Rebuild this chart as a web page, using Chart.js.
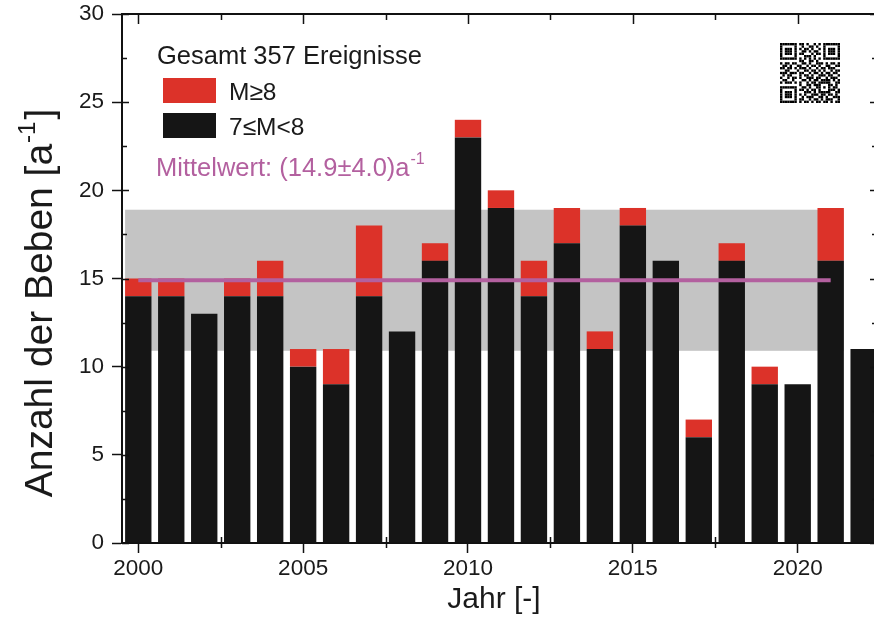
<!DOCTYPE html>
<html lang="de">
<head>
<meta charset="utf-8">
<title>Anzahl der Beben</title>
<script src="https://cdn.jsdelivr.net/npm/chart.js@4.4.1/dist/chart.umd.min.js"></script>
<style>
  html, body { margin: 0; padding: 0; background: #fff; overflow: hidden; }
  #wrap { width: 874px; height: 617px; overflow: hidden; }
  canvas { display: block; }
</style>
</head>
<body>
<div id="wrap"><canvas id="chart" width="880" height="617"></canvas></div>
<script>
// Jahreswerte (Beben pro Jahr)
const years = [2000, 2001, 2002, 2003, 2004, 2005, 2006, 2007, 2008, 2009, 2010, 2011,
  2012, 2013, 2014, 2015, 2016, 2017, 2018, 2019, 2020, 2021, 2022]
const countStrong = [14, 14, 13, 14, 14, 10, 9, 14, 12, 16, 23, 19,
  14, 17, 11, 18, 16, 6, 16, 9, 9, 16, 11]
const countMajor = [1, 1, 0, 1, 2, 1, 2, 4, 0, 1, 1, 1,
  2, 2, 1, 1, 0, 1, 1, 1, 0, 3, 0]

const meanValue = 14.9
const meanSpread = 4.0
const meanYears = [2000, 2021]

const xTicks = [2000, 2005, 2010, 2015, 2020]
const yTicks = [0, 5, 10, 15, 20, 25, 30]

const labelStrong = "7≤M<8"
const labelMajor = "M≥8"
const totalText = "Gesamt 357 Ereignisse"
const meanText = "Mittelwert: (14.9±4.0)a"
const yTitle = "Anzahl der Beben [a"
const xTitle = "Jahr [-]"

const FONT = "\"Liberation Sans\", Arial, sans-serif"
const RED = "#dc3229"
const BLACK = "#151515"
const PURPLE = "#b3609f"
const BAND = "#c4c4c4"

const qrRows = [
  "1111111011010010101111111",
  "1000001001001101001000001",
  "1011101010110100101011101",
  "1011101001101011001011101",
  "1011101011000101101011101",
  "1000001000111010001000001",
  "1111111010101010101111111",
  "0000000011001101000000000",
  "1011011001101001110101101",
  "0110100110010110100110011",
  "1101101011101001011011100",
  "0011000100110110101001011",
  "1110111011001011010110110",
  "0101100010110100111011001",
  "1001011010011101100101110",
  "0110010001101011011110101",
  "1011101010010110111110011",
  "0000000010011011100011010",
  "1111111001101001101010110",
  "1000001011010110100011101",
  "1011101000111010111110011",
  "1011101010100111011011010",
  "1011101001011100110100111",
  "1000001011001011010111001",
  "1111111010110101101101011"
]

function drawSup(ctx, x, y, text, sup, size, supSize, rise) {
  ctx.font = `${size}px ${FONT}`
  ctx.fillText(text, x, y)
  const w = ctx.measureText(text).width
  ctx.font = `${supSize}px ${FONT}`
  ctx.fillText(sup, x + w + 1, y - rise)
  return w + 1 + ctx.measureText(sup).width
}

const bandPlugin = {
  id: "band",
  beforeDatasetsDraw(chart) {
    const { ctx, scales } = chart
    const meta = chart.getDatasetMeta(0)
    const first = meta.data[years.indexOf(meanYears[0])]
    const last = meta.data[years.indexOf(meanYears[1])]
    const left = first.x - first.width / 2
    const right = last.x + last.width / 2
    const top = scales.y.getPixelForValue(meanValue + meanSpread)
    const bottom = scales.y.getPixelForValue(meanValue - meanSpread)
    ctx.save()
    ctx.fillStyle = BAND
    ctx.fillRect(left, top, right - left, bottom - top)
    ctx.restore()
  }
}

const framePlugin = {
  id: "frame",
  afterDatasetsDraw(chart) {
    const { ctx, chartArea, scales } = chart
    const { left, right, top, bottom } = chartArea
    ctx.save()
    ctx.strokeStyle = "#111"
    ctx.lineWidth = 2
    ctx.beginPath()
    ctx.moveTo(left, top)
    ctx.lineTo(right, top)
    ctx.stroke()

    ctx.lineWidth = 1.5
    ctx.beginPath()
    yTicks.forEach((v, i) => {
      const py = Math.round(scales.y.getPixelForValue(v)) + 0.5
      ctx.moveTo(left, py)
      ctx.lineTo(left + 7, py)
      ctx.moveTo(right, py)
      ctx.lineTo(right - 7, py)
      if (i < yTicks.length - 1) {
        const my = Math.round(scales.y.getPixelForValue(v + 2.5)) + 0.5
        ctx.moveTo(left, my)
        ctx.lineTo(left + 5, my)
        ctx.moveTo(right, my)
        ctx.lineTo(right - 5, my)
      }
    })
    xTicks.forEach(v => {
      const px = Math.round(scales.x.getPixelForValue(v)) + 0.5
      ctx.moveTo(px, top)
      ctx.lineTo(px, top + 10)
      const mx = Math.round(scales.x.getPixelForValue(v + 2.5)) + 0.5
      ctx.moveTo(mx, top)
      ctx.lineTo(mx, top + 6)
      ctx.moveTo(mx, bottom - 6)
      ctx.lineTo(mx, bottom + 5)
    })
    ctx.stroke()
    ctx.restore()
  }
}

const textPlugin = {
  id: "texts",
  afterDraw(chart) {
    const { ctx } = chart
    ctx.save()
    ctx.fillStyle = "#1a1a1a"
    ctx.textBaseline = "alphabetic"
    ctx.textAlign = "left"

    // Achsentitel
    ctx.save()
    ctx.translate(52, 303)
    ctx.rotate(-Math.PI / 2)
    ctx.font = `39px ${FONT}`
    const w1 = ctx.measureText(yTitle).width
    ctx.font = `24px ${FONT}`
    const w2 = ctx.measureText("-1").width
    ctx.font = `39px ${FONT}`
    const w3 = ctx.measureText("]").width
    const start = -(w1 + w2 + w3 + 3) / 2
    const used = drawSup(ctx, start, 0, yTitle, "-1", 39, 24, 17)
    ctx.font = `39px ${FONT}`
    ctx.fillText("]", start + used + 2, 0)
    ctx.restore()

    ctx.font = `30px ${FONT}`
    ctx.textAlign = "center"
    ctx.fillText(xTitle, 494, 608)
    ctx.textAlign = "left"

    // Legende
    ctx.font = `25.5px ${FONT}`
    ctx.fillText(totalText, 157, 64)
    ctx.fillStyle = RED
    ctx.fillRect(163, 78, 53, 25)
    ctx.fillStyle = BLACK
    ctx.fillRect(163, 113, 53, 25)
    ctx.fillStyle = "#1a1a1a"
    ctx.font = `24.5px ${FONT}`
    ctx.fillText(labelMajor, 229, 100)
    ctx.fillText(labelStrong, 229, 135)
    ctx.fillStyle = PURPLE
    drawSup(ctx, 156, 176, meanText, "-1", 25.5, 16, 12)

    // QR-Code
    ctx.fillStyle = "#000"
    const cell = 60 / 25
    qrRows.forEach((row, r) => {
      for (let c = 0; c < row.length; c++) {
        if (row[c] === "1") {
          ctx.fillRect(780 + c * cell, 43 + r * cell, cell, cell)
        }
      }
    })
    ctx.restore()
  }
}

const ctx = document.getElementById("chart")

new Chart(ctx, {
  type: "bar",
  data: {
    datasets: [
      {
        label: labelStrong,
        data: years.map((year, i) => ({ x: year, y: countStrong[i] })),
        backgroundColor: BLACK,
        borderWidth: 0,
        categoryPercentage: 1,
        barPercentage: 0.8,
        order: 1
      },
      {
        label: labelMajor,
        data: years.map((year, i) => ({ x: year, y: countMajor[i] })),
        backgroundColor: RED,
        borderWidth: 0,
        categoryPercentage: 1,
        barPercentage: 0.8,
        order: 1
      },
      {
        type: "line",
        label: "Mittelwert",
        data: meanYears.map(year => ({ x: year, y: meanValue })),
        borderColor: PURPLE,
        borderWidth: 4,
        pointRadius: 0,
        fill: false,
        order: 0
      }
    ]
  },
  options: {
    responsive: false,
    animation: false,
    layout: {
      padding: { top: 14, right: 3, bottom: 0, left: 0 }
    },
    plugins: {
      legend: { display: false },
      tooltip: { enabled: false }
    },
    scales: {
      x: {
        type: "linear",
        min: 1999.506,
        max: 2022.405,
        offset: false,
        stacked: true,
        afterBuildTicks: scale => {
          scale.ticks = xTicks.map(v => ({ value: v }))
        },
        afterFit: scale => {
          scale.height = 74
          scale.paddingLeft = 0
          scale.paddingRight = 0
        },
        ticks: {
          color: "#1a1a1a",
          font: { family: FONT, size: 22.5 },
          padding: 2,
          maxRotation: 0,
          callback: value => String(value)
        },
        grid: {
          offset: false,
          drawOnChartArea: false,
          tickLength: 10,
          tickColor: "#111",
          tickWidth: 1.5
        },
        border: { display: true, color: "#111", width: 2 }
      },
      y: {
        min: 0,
        max: 30,
        stacked: true,
        afterBuildTicks: scale => {
          scale.ticks = yTicks.map(v => ({ value: v }))
        },
        afterFit: scale => {
          scale.width = 122
          scale.paddingTop = 0
          scale.paddingBottom = 0
        },
        ticks: {
          color: "#1a1a1a",
          font: { family: FONT, size: 22.5 },
          padding: 8
        },
        grid: {
          drawOnChartArea: false,
          tickLength: 10,
          tickColor: "#111",
          tickWidth: 1.5
        },
        border: { display: true, color: "#111", width: 2 }
      }
    }
  },
  plugins: [bandPlugin, framePlugin, textPlugin]
})
</script>
</body>
</html>
